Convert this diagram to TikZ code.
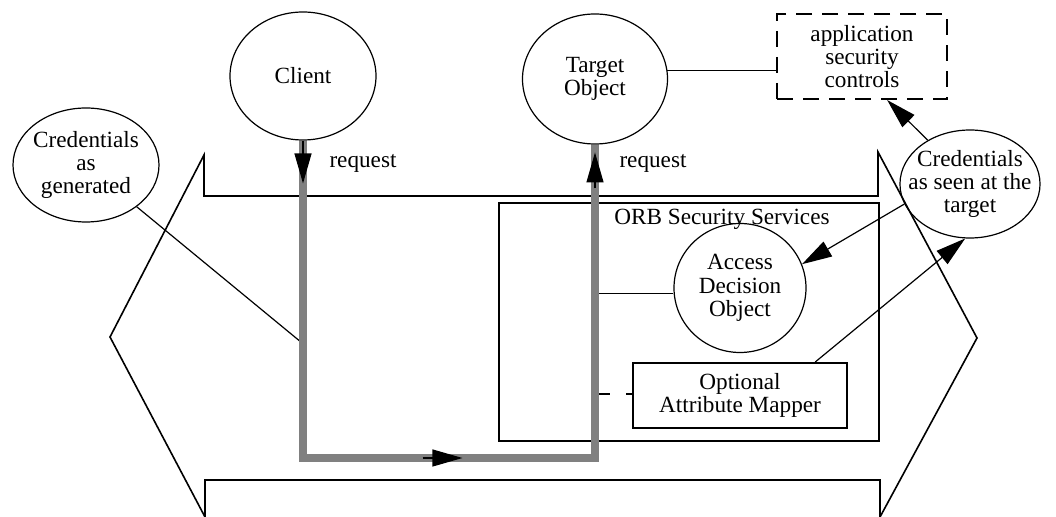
\documentclass[tikz,border=0pt]{standalone}
\usepackage{fontspec}
\setmainfont{Liberation Serif}
\usetikzlibrary{arrows.meta,shapes.geometric}
\definecolor{FlowGray}{RGB}{128,128,128}

\begin{document}
\begin{tikzpicture}[x=0.5pt,y=-0.5pt,
font=\fontsize{11.6}{11.6}\selectfont,
oval/.style={draw,ellipse,inner sep=-6pt,line width=0.6pt,align=center},
box/.style={draw,rectangle,inner sep=0pt,line width=1pt,align=center},
link/.style={line width=0.6pt},
arr/.style={-{Triangle[length=15pt,width=8.5pt]},line width=0.6pt},
flow/.style={draw=FlowGray,line width=4pt}]
\useasboundingbox (0,0) rectangle (1056,517);
% pipe outline
\draw[line width=0.8pt] (204,155) -- (204,196) -- (878,196) -- (878,152) -- (977,338) -- (880,517) -- (880,480) -- (205,480) -- (205,517) -- (110,337) -- cycle;
\node[oval,minimum width=73pt,minimum height=64pt] (client) at (303,76) {Client};
\node[oval,minimum width=72.5pt,minimum height=65pt] (target) at (595,79) {Target\\Object};
\node[oval,minimum width=73pt,minimum height=57pt] (crgen) at (86,165) {Credentials\\as\\generated};
\node[oval,minimum width=68pt,minimum height=54pt] (crseen) at (970,184) {Credentials\\as seen at the\\target};
\node[box,dash pattern=on 8pt off 5pt,minimum width=85pt,minimum height=42.5pt] (appsec) at (862,56.5) {application\\security\\controls};
\node[box,minimum width=190pt,minimum height=119pt] (orb) at (689,322) {};
\node (orblbl) at (722,219) {ORB Security Services};
\node[oval,minimum width=66pt,minimum height=64.5pt] (ado) at (740,288) {Access\\Decision\\Object};
\node[box,minimum width=107pt,minimum height=32.5pt] (mapper) at (740,395.5) {Optional\\Attribute Mapper};
\node (req1) at (363,163) {request};
\node (req2) at (653,163) {request};
% request path
\coordinate (low) at (450,458);
\path (client.south) -- coordinate[pos=0.135] (d1) coordinate[pos=0.64] (g1) (client.south |- low) coordinate (c1)
  -- coordinate[pos=0.41] (b0) coordinate[pos=0.546] (b1) (target.south |- low) coordinate (c2)
  -- coordinate[pos=0.204] (g3) coordinate[pos=0.525] (g2) coordinate[pos=0.86] (u0) coordinate[pos=0.975] (u1) (target.south);
\draw[link] (crgen) -- (g1);
\draw[link] (g2) -- (g2 -| ado.west);
\draw[link,dash pattern=on 7.5pt off 8pt] (g3) -- (g3 -| mapper.west);
\draw[link] (target.7) -- (target.7 -| appsec.west);
\draw[arr] (crseen.134) -- (appsec.300);
\draw[arr] (crseen.197) -- (ado.21);
\draw[arr] (mapper.24) -- (crseen.265);
\draw[flow] (client.south) -- (c1) -- (c2) -- (target.south);
\draw[arr] (client.south) -- (d1);
\draw[arr] (b0) -- (b1);
\draw[arr] (u0) -- (u1);
\end{tikzpicture}
\end{document}
